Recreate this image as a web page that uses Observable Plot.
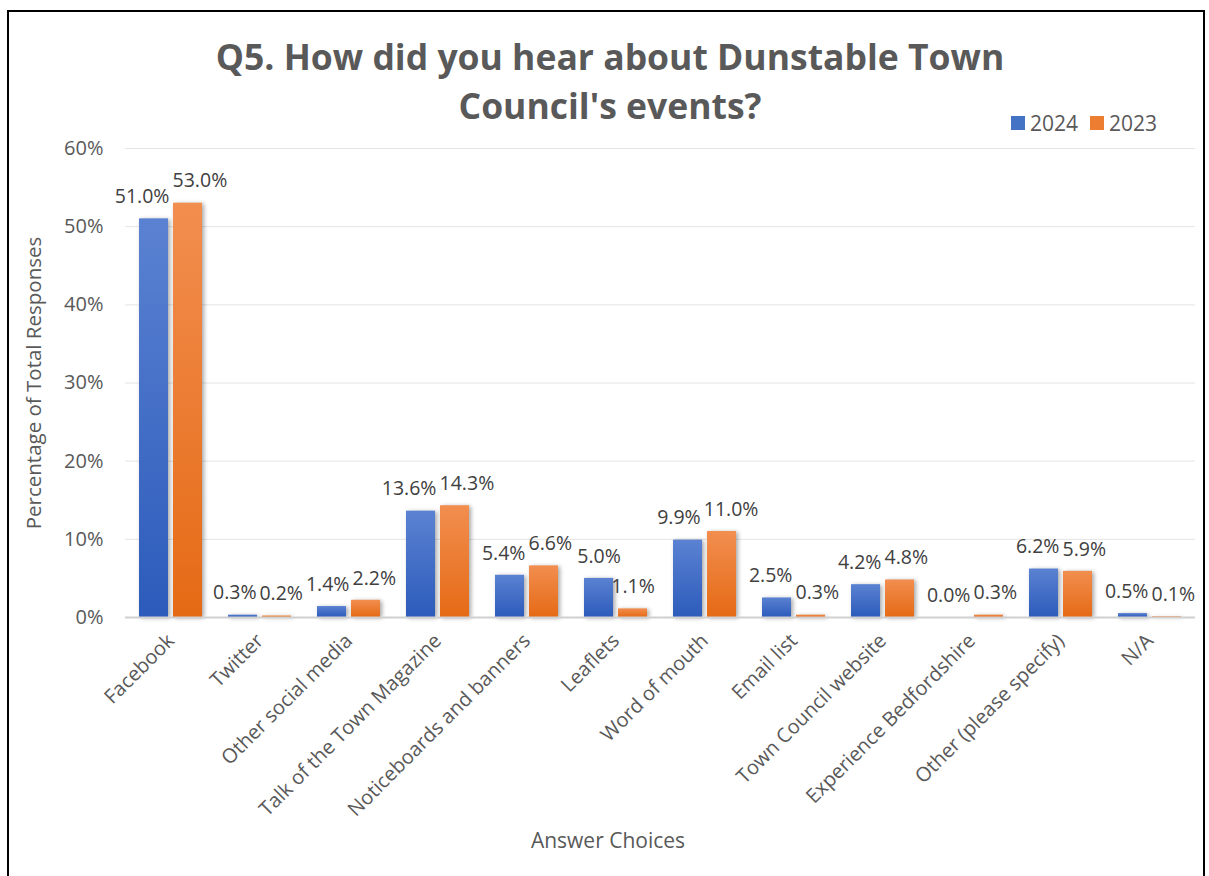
<!DOCTYPE html>
<html>
<head>
<meta charset="utf-8">
<script src="https://cdn.jsdelivr.net/npm/d3@7"></script>
<script src="https://cdn.jsdelivr.net/npm/@observablehq/plot@0.6"></script>
<style>
  html, body { margin: 0; padding: 0; background: #fff; }
  body { width: 1209px; height: 876px; position: relative; overflow: hidden; font-family: "Open Sans", sans-serif; color: #595959; }
  #frame { position: absolute; left: 7px; top: 10px; width: 1198px; height: 900px; border: 2px solid #000; box-sizing: border-box; }
  #title { position: absolute; left: 0; top: 32px; width: 1220px; text-align: center; font-weight: 700; font-size: 35.5px; line-height: 49px; color: #595959; }
  #legend { position: absolute; left: 1011px; top: 109px; font-size: 21px; line-height: 28px; display: flex; align-items: center; color: #595959; }
  #legend .sw { display: inline-block; width: 14px; height: 14px; margin-right: 5px; }
  #legend .item { display: flex; align-items: center; margin-right: 12px; }
  #ylabel { position: absolute; left: 33px; top: 383px; transform: translate(-50%, -50%) rotate(-90deg); font-size: 20.5px; white-space: nowrap; }
  #xlabel { position: absolute; left: 608px; top: 840px; transform: translate(-50%, -50%); font-size: 21px; white-space: nowrap; }
  .chart { position: absolute; left: 0; top: 130px; }
  .chart g[aria-label="bar"] rect { filter: drop-shadow(2px 1px 2px rgba(0,0,0,0.35)); }
</style>
</head>
<body>
<svg width="0" height="0" style="position:absolute">
  <defs>
    <linearGradient id="g2024" x1="0" y1="0" x2="0" y2="1">
      <stop offset="0" stop-color="#5b82d2"/>
      <stop offset="1" stop-color="#2c5bbb"/>
    </linearGradient>
    <linearGradient id="g2023" x1="0" y1="0" x2="0" y2="1">
      <stop offset="0" stop-color="#f28e4f"/>
      <stop offset="1" stop-color="#e56a15"/>
    </linearGradient>
  </defs>
</svg>
<div id="frame"></div>
<div id="title">Q5. How did you hear about Dunstable Town<br>Council's events?</div>
<div id="legend"></div>
<div id="ylabel">Percentage of Total Responses</div>
<div id="xlabel">Answer Choices</div>
<div id="bg" class="chart"></div>
<div id="fg" class="chart"></div>
<script>
const categories = ["Facebook", "Twitter", "Other social media", "Talk of the Town Magazine", "Noticeboards and banners", "Leaflets", "Word of mouth", "Email list", "Town Council website", "Experience Bedfordshire", "Other (please specify)", "N/A"];
const values2024 = [51.0, 0.3, 1.4, 13.6, 5.4, 5.0, 9.9, 2.5, 4.2, 0.0, 6.2, 0.5];
const values2023 = [53.0, 0.2, 2.2, 14.3, 6.6, 1.1, 11.0, 0.3, 4.8, 0.3, 5.9, 0.1];
const years = ["2024", "2023"];
const yTicks = [0, 10, 20, 30, 40, 50, 60];
const legendColors = {"2024": "#4472C4", "2023": "#ED7D31"};

const rows = [];
categories.forEach((c, i) => {
  rows.push({cat: c, year: "2024", value: values2024[i]});
  rows.push({cat: c, year: "2023", value: values2023[i]});
});
const rows2024 = rows.filter(d => d.year === "2024");
const rows2023 = rows.filter(d => d.year === "2023");

const legend = document.getElementById("legend");
years.forEach(y => {
  const it = document.createElement("div");
  it.className = "item";
  it.innerHTML = `<span class="sw" style="background:${legendColors[y]}"></span><span>${y}</span>`;
  legend.appendChild(it);
});

const common = {
  width: 1209,
  height: 746,
  marginLeft: 125,
  marginRight: 14,
  marginTop: 18,
  marginBottom: 259,
  style: {fontFamily: "Open Sans", fontSize: "20px", color: "#595959", background: "transparent", overflow: "visible"}
};

// Background: gridlines and y axis spanning the whole plot area
const bg = Plot.plot({
  ...common,
  x: {domain: categories, axis: null},
  y: {domain: [0, 60], ticks: yTicks, tickFormat: d => d + "%", label: null, tickSize: 0, tickPadding: 22},
  marks: [
    Plot.ruleY(yTicks.filter(d => d > 0), {stroke: "#e4e4e4", strokeWidth: 1})
  ]
});
document.getElementById("bg").appendChild(bg);

// Foreground: grouped bars via fx faceting
const fg = Plot.plot({
  ...common,
  fx: {domain: categories, paddingInner: 0.29, paddingOuter: 0.145, label: null, tickRotate: -45, tickSize: 0, tickPadding: 20},
  x: {domain: years, paddingInner: 0.15, paddingOuter: 0, axis: null},
  y: {domain: [0, 60], axis: null},
  marks: [
    Plot.barY(rows2024, {fx: "cat", x: "year", y: "value", fill: "url(#g2024)"}),
    Plot.barY(rows2023, {fx: "cat", x: "year", y: "value", fill: "url(#g2023)"}),
    Plot.text(rows, {fx: "cat", x: "year", y: "value", text: d => d.value.toFixed(1) + "%", dy: -22, fill: "#404040", fontSize: 19.5, lineAnchor: "middle"})
  ]
});
document.getElementById("fg").appendChild(fg);

// Push overlapping data labels apart horizontally (like the spreadsheet's label layout)
(function resolveLabelOverlaps() {
  const gap = 3;
  const labels = Array.from(fg.querySelectorAll('g[aria-label="text"] text')).map(el => {
    const r = el.getBoundingClientRect();
    return {el, left: r.left, right: r.right, top: r.top, bottom: r.bottom, shift: 0};
  });
  labels.sort((a, b) => (a.left + a.right) - (b.left + b.right));
  for (let pass = 0; pass < 6; pass++) {
    for (let i = 0; i < labels.length; i++) {
      for (let j = i + 1; j < labels.length; j++) {
        const a = labels[i], b = labels[j];
        if (a.bottom <= b.top || b.bottom <= a.top) continue;
        const o = (a.right + a.shift + gap) - (b.left + b.shift);
        if (o > 0) { a.shift -= o / 2; b.shift += o / 2; }
      }
    }
  }
  labels.forEach(l => { if (l.shift) l.el.setAttribute("dx", l.shift.toFixed(1)); });
})();

// Baseline at 0 drawn on top, full width
const base = Plot.plot({
  ...common,
  x: {domain: categories, axis: null},
  y: {domain: [0, 60], axis: null},
  marks: [Plot.ruleY([0], {stroke: "#d0d0d0", strokeWidth: 2})]
});
const baseDiv = document.createElement("div");
baseDiv.className = "chart";
baseDiv.appendChild(base);
document.body.appendChild(baseDiv);
</script>
</body>
</html>
